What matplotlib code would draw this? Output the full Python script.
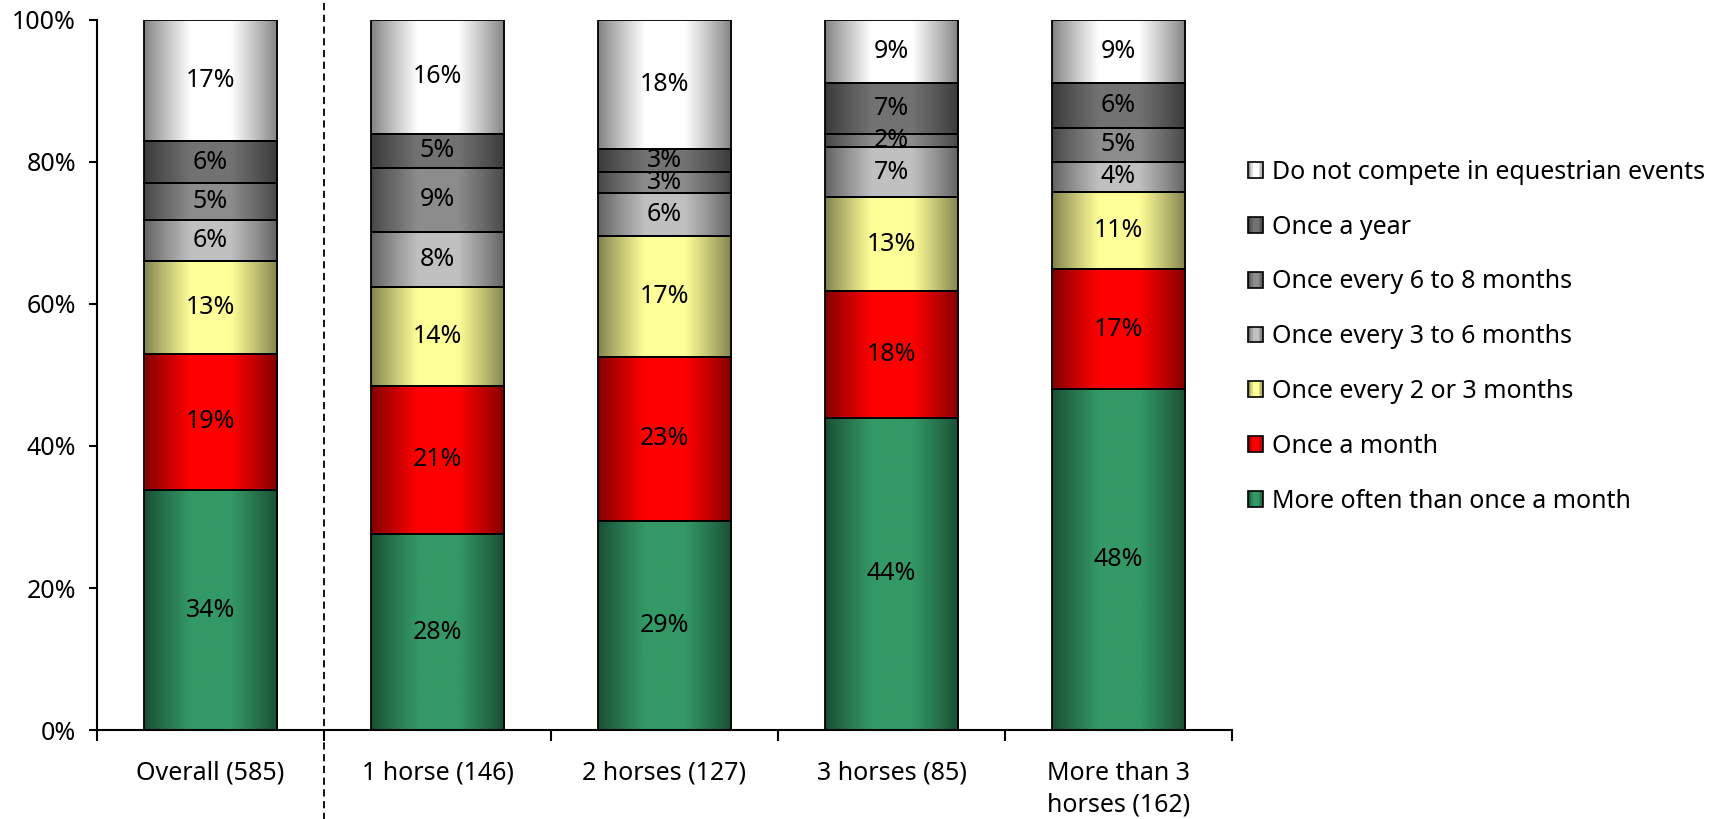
import numpy as np
import matplotlib
matplotlib.use("Agg")
import matplotlib.pyplot as plt
import matplotlib.transforms as mtransforms
from matplotlib.patches import Patch, Rectangle
from matplotlib.legend_handler import HandlerBase
from matplotlib.colors import to_rgb

plt.rcParams['font.family'] = ['Noto Sans', 'DejaVu Sans']

categories = ["Overall (585)", "1 horse (146)", "2 horses (127)",
              "3 horses (85)", "More than 3\nhorses (162)"]

# shares in %, bottom to top of each bar
more_often = [33.8, 27.6, 29.4, 44.0, 48.0]
once_month = [19.2, 20.9, 23.2, 17.9, 16.9]
every_2_3 = [13.1, 13.9, 17.0, 13.1, 10.9]
every_3_6 = [5.8, 7.8, 6.0, 7.1, 4.2]
every_6_8 = [5.1, 8.9, 3.0, 1.9, 4.8]
once_year = [5.9, 4.9, 3.2, 7.1, 6.3]
not_compete = [17.1, 16.0, 18.2, 8.9, 8.9]

series = [more_often, once_month, every_2_3, every_3_6,
          every_6_8, once_year, not_compete]
names = ["More often than once a month", "Once a month",
         "Once every 2 or 3 months", "Once every 3 to 6 months",
         "Once every 6 to 8 months", "Once a year",
         "Do not compete in equestrian events"]
colors = ["#339966", "#FF0000", "#FFFF99", "#C0C0C0",
          "#8C8C8C", "#727272", "#FFFFFF"]

FS = 18


def shade(t):
    # dark edges, bright middle, like the old excel "cylinder" fill
    s = 1 - np.abs(2 * t - 1)
    return 0.5 + 0.5 * np.clip(s / 0.7, 0, 1) ** 0.9


def gradient(color, n=256):
    t = np.linspace(0, 1, n)
    rgb = np.array(to_rgb(color))
    return (shade(t)[:, None] * rgb[None, :])[None, :, :]


class GradientHandler(HandlerBase):
    def __init__(self, color):
        super().__init__()
        self.color = color

    def create_artists(self, legend, orig_handle, xdescent, ydescent,
                       width, height, fontsize, trans):
        out = []
        n = 10
        rgb = np.array(to_rgb(self.color))
        for i in range(n):
            c = shade((i + 0.5) / n) * rgb
            out.append(Rectangle((-xdescent + i * width / n, -ydescent),
                                 width / n, height, facecolor=c,
                                 edgecolor='none', transform=trans))
        out.append(Rectangle((-xdescent, -ydescent), width, height,
                             facecolor='none', edgecolor='black', lw=1.2,
                             transform=trans))
        return out


fig = plt.figure(figsize=(17.12, 8.19), dpi=100)
ax = fig.add_axes([97 / 1712, 89 / 819, 1135 / 1712, 710 / 819])

x = np.arange(len(categories))
width = 0.59
bottom = np.zeros(len(categories))
for vals, col in zip(series, colors):
    vals = np.array(vals)
    grad = gradient(col)
    for xi, b, v in zip(x, bottom, vals):
        ax.imshow(grad, extent=(xi - width / 2, xi + width / 2, b, b + v),
                  aspect='auto', interpolation='bilinear', zorder=1)
    bars = ax.bar(x, vals, width, bottom=bottom, facecolor='none',
                  edgecolor='black', linewidth=1.3, zorder=2)
    ax.bar_label(bars, labels=[f"{v:.0f}%" for v in vals],
                 label_type='center', fontsize=FS, zorder=3)
    bottom += vals

ax.set_xlim(-0.5, len(categories) - 0.5)
ax.set_ylim(0, 100)

ax.set_yticks(np.arange(0, 101, 20))
ax.set_yticklabels([f"{v}%" for v in range(0, 101, 20)])
ax.set_xticks(x)
ax.set_xticklabels(categories)
ax.set_xticks(np.arange(-0.5, len(categories)), minor=True)
ax.tick_params(axis='x', which='major', length=0, pad=22, labelsize=FS)
ax.tick_params(axis='x', which='minor', length=8, width=1.5, direction='out')
ax.tick_params(axis='y', length=6, width=1.5, pad=9, labelsize=FS)
for lbl in ax.get_xticklabels():
    lbl.set_linespacing(1.35)

for side in ['top', 'right']:
    ax.spines[side].set_visible(False)
for side in ['left', 'bottom']:
    ax.spines[side].set_linewidth(1.5)

# dashed separator between the overall bar and the breakdown
trans = mtransforms.blended_transform_factory(ax.transData, ax.transAxes)
ax.plot([0.5, 0.5], [-0.14, 1.04], transform=trans, color='black',
        lw=1.3, linestyle=(0, (4, 2.5)), clip_on=False, zorder=4)

handles = [Patch(label=n) for n in names]
hmap = {h: GradientHandler(c) for h, c in zip(handles, colors)}
fig.legend(handles[::-1], names[::-1], handler_map=hmap,
           loc='upper left', bbox_to_anchor=(1248 / 1712, 1 - 160 / 819),
           frameon=False, fontsize=FS, borderpad=0, borderaxespad=0,
           handlelength=0.6, handleheight=0.6, handletextpad=0.35,
           labelspacing=1.19)

fig.savefig("out.png", dpi=100)
